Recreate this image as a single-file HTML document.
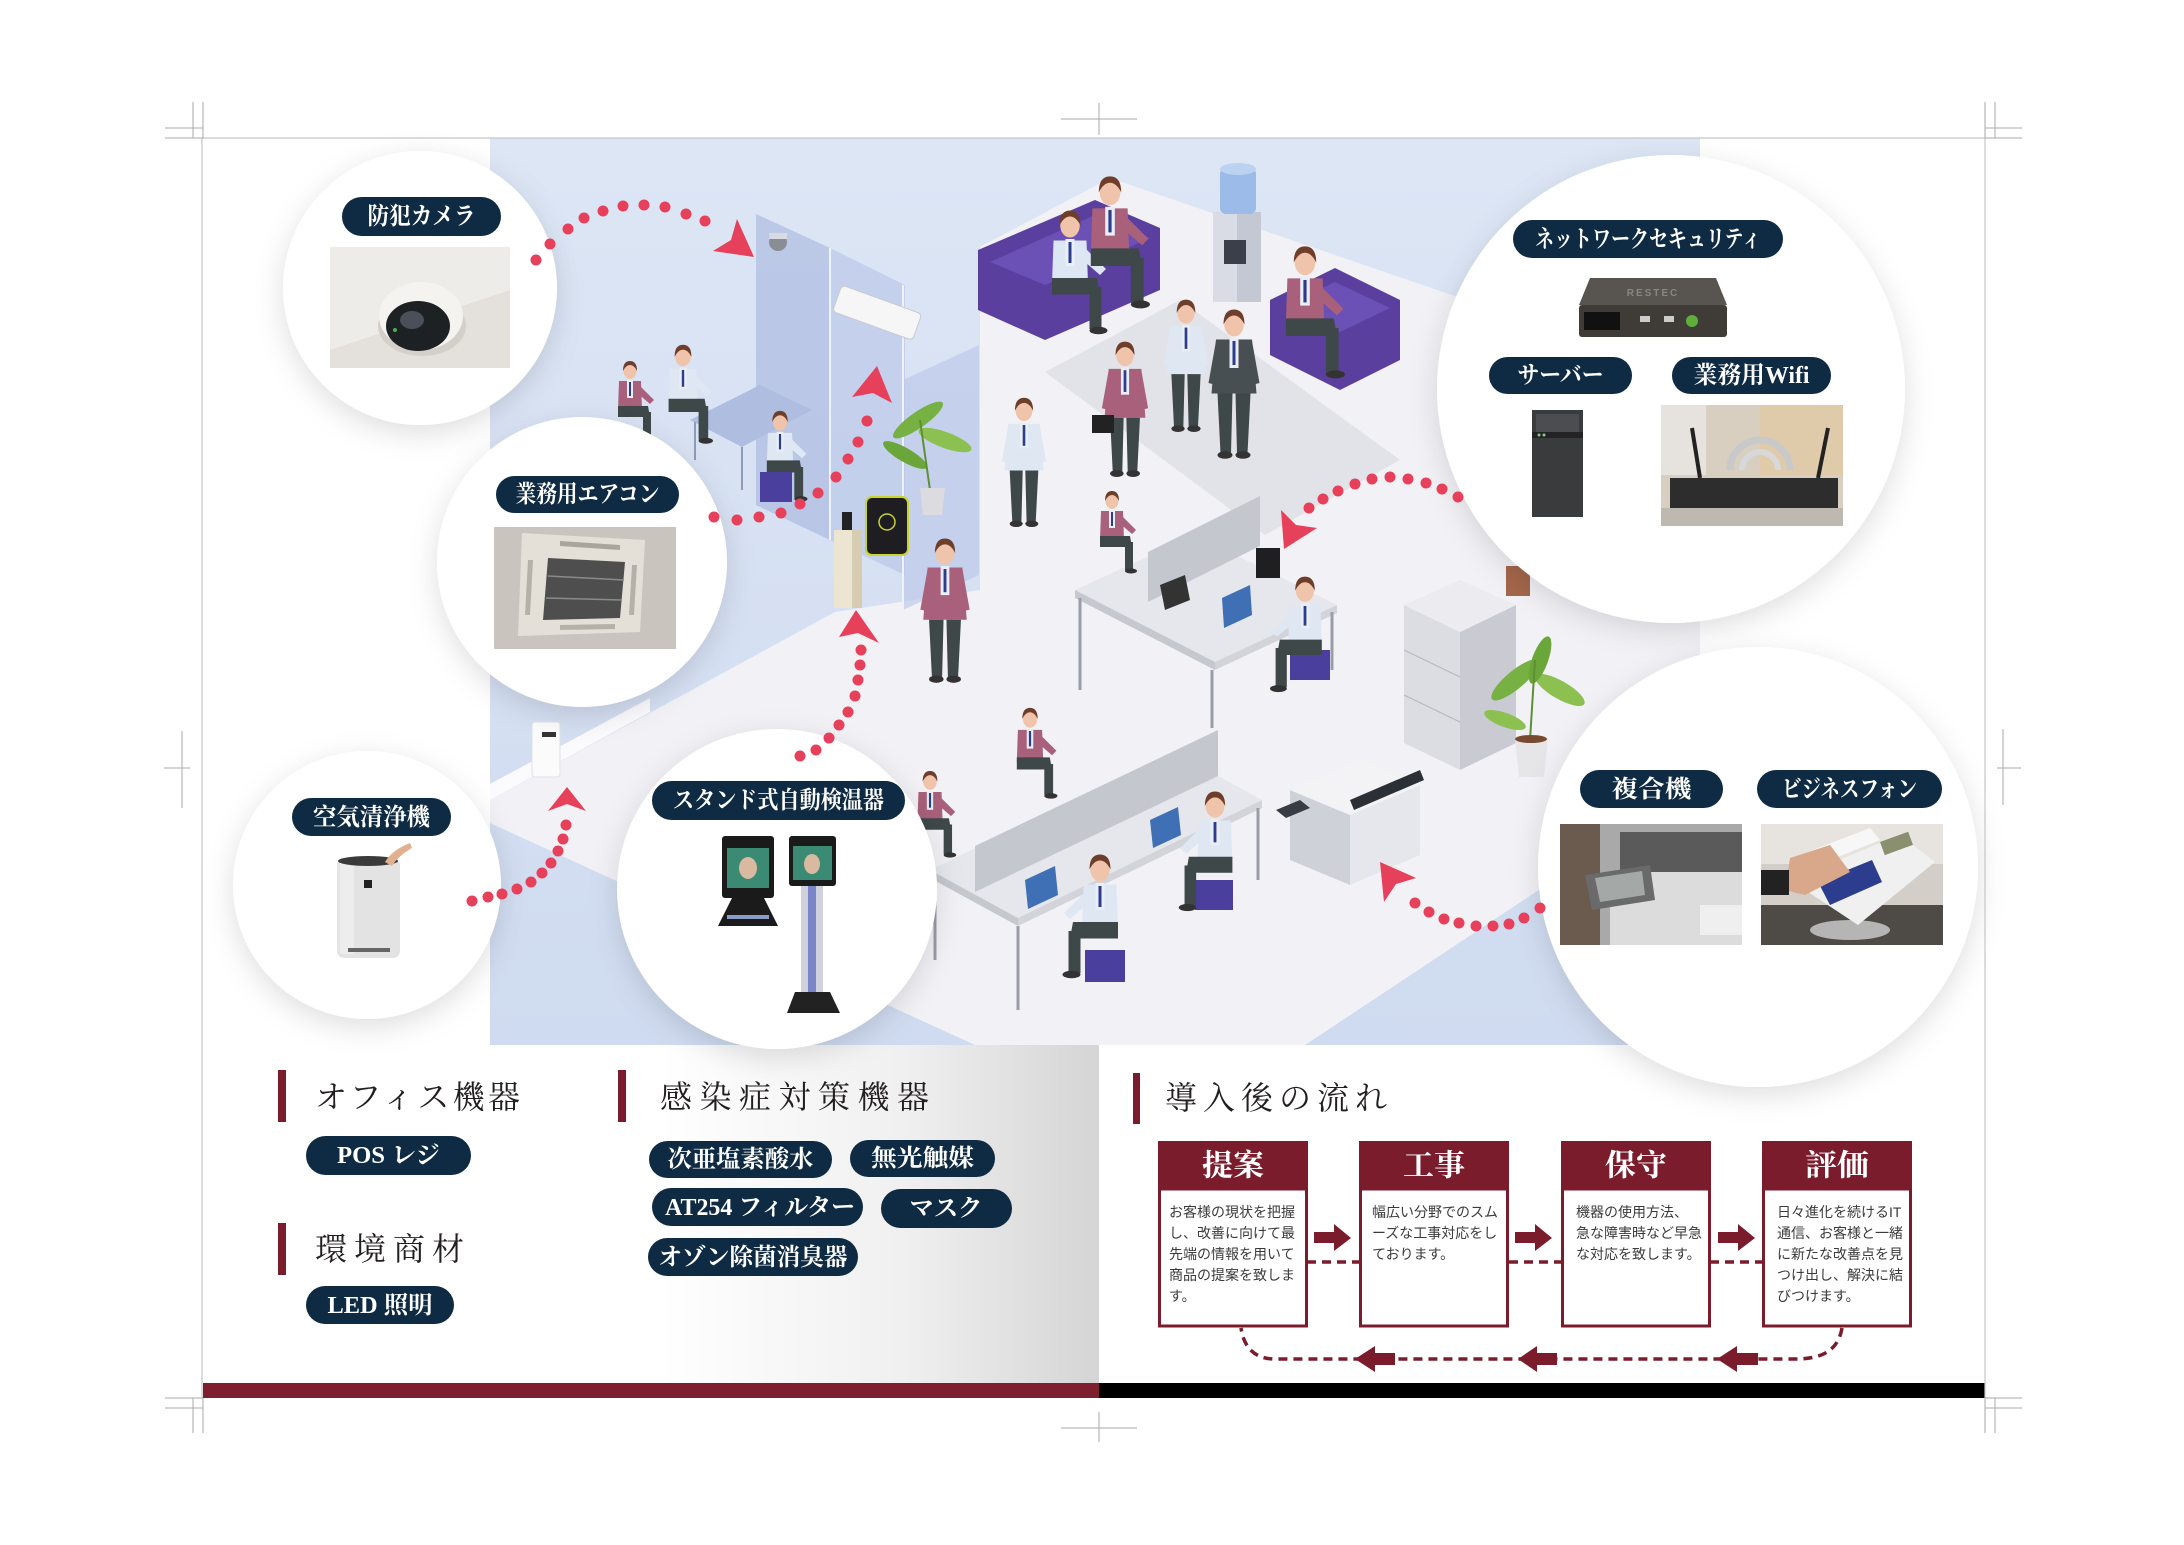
<!DOCTYPE html>
<html><head><meta charset="utf-8"><style>
html,body{margin:0;padding:0;background:#fff;}
svg{display:block;}
.pill{fill:#0f2b43;}
.pt{font-family:"Liberation Serif","Noto Serif CJK SC",serif;font-weight:bold;fill:#fff;font-size:24px;}
.hd{font-family:"Liberation Serif","Noto Serif CJK SC",serif;fill:#231f20;font-size:32px;}
.bt{font-family:"Liberation Sans","Noto Sans CJK JP",sans-serif;fill:#3a3a3a;font-size:14px;}
.ft{font-family:"Liberation Serif","Noto Serif CJK SC",serif;font-weight:bold;fill:#fff;font-size:30px;}
.dot{fill:#e6405a;}
.cm{stroke:#a8a8a8;stroke-width:1;fill:none;}
</style></head><body>
<svg xmlns="http://www.w3.org/2000/svg" width="2184" height="1545" viewBox="0 0 2184 1545">
<defs>
<linearGradient id="gfold" gradientUnits="userSpaceOnUse" x1="660" y1="0" x2="1099" y2="0">
<stop offset="0" stop-color="#ffffff"/><stop offset="0.55" stop-color="#f0f0f0"/><stop offset="1" stop-color="#d5d5d5"/>
</linearGradient>
<linearGradient id="gblue" x1="0" y1="0" x2="0" y2="1">
<stop offset="0" stop-color="#dde6f5"/><stop offset="1" stop-color="#cfdbf0"/>
</linearGradient>
<filter id="sh" x="-30%" y="-30%" width="160%" height="160%">
<feDropShadow dx="0" dy="8" stdDeviation="14" flood-color="#000" flood-opacity="0.13"/>
</filter>
<g id="ps">
<path d="M-12 19 L12 19 L15 55 L-15 55Z" fill="currentColor"/>
<path d="M-12 20 L-17 48 L-13 49 L-9 25Z" fill="currentColor"/>
<path d="M12 20 L17 48 L13 49 L9 25Z" fill="currentColor"/>
<rect x="-3" y="18" width="6" height="20" fill="#e9eef7"/>
<rect x="-1" y="20" width="2" height="16" fill="#2c3d8f"/>
<ellipse cx="0" cy="9" rx="6.5" ry="8" fill="#f0c4aa"/>
<path d="M-7 9 Q-7 -1 0 -1 Q7 -1 7 9 Q4 3 0 3 Q-4 3 -7 9Z" fill="#6e3e2a"/>
<path d="M-11 55 L-1 55 L-2 95 L-9 95Z" fill="#3e4849"/>
<path d="M1 55 L11 55 L9 95 L2 95Z" fill="#3e4849"/>
<ellipse cx="-6" cy="96" rx="5" ry="2.5" fill="#333"/>
<ellipse cx="6" cy="96" rx="5" ry="2.5" fill="#333"/>
</g>
<g id="pst">
<path d="M-11 19 L11 19 L12 48 L-12 48Z" fill="currentColor"/>
<rect x="-3" y="18" width="6" height="18" fill="#e9eef7"/>
<rect x="-1" y="20" width="2" height="14" fill="#2c3d8f"/>
<path d="M8 22 L24 38 L20 42 L5 29Z" fill="currentColor"/>
<ellipse cx="0" cy="9" rx="6.5" ry="8" fill="#f0c4aa"/>
<path d="M-7 9 Q-7 -1 0 -1 Q7 -1 7 9 Q4 3 0 3 Q-4 3 -7 9Z" fill="#6e3e2a"/>
<path d="M-12 44 L18 44 L20 55 L-12 55Z" fill="#3e4849"/>
<rect x="13" y="50" width="8" height="28" fill="#3e4849"/>
<ellipse cx="19" cy="79" rx="6" ry="2.5" fill="#333"/>
</g>
</defs>

<rect x="0" y="0" width="2184" height="1545" fill="#fff"/>
<rect x="202" y="1040" width="897" height="343" fill="url(#gfold)"/>

<rect x="490" y="138" width="1210" height="907" fill="url(#gblue)"/>
<polygon points="490,800 835,612 980,590 980,247 1110,178 1700,380 1700,783 1305,1045 975,1045 490,823" fill="#f2f2f6"/>
<polygon points="490,784 650,698 650,712 490,800" fill="#fbfbfd"/>
<polygon points="1045,372 1180,300 1400,460 1265,535" fill="#e2e3e9"/>
<rect x="1506" y="566" width="24" height="30" fill="#a3674b"/>

<polygon points="756,214 830,248 830,540 756,505" fill="#a5b4dc" opacity="0.6"/>
<polygon points="830,248 905,285 905,575 830,540" fill="#b3c1e5" opacity="0.55"/>
<polygon points="903,380 979,345 979,575 903,610" fill="#b7c4e7" opacity="0.6"/>
<line x1="830" y1="248" x2="830" y2="540" stroke="#eef2fb" stroke-width="2"/>
<line x1="903" y1="285" x2="903" y2="610" stroke="#eef2fb" stroke-width="2"/>
<rect x="842" y="285" width="85" height="28" rx="4" fill="#f6f6f6" stroke="#c9c9cf" transform="rotate(20 842 285)"/>
<circle cx="778" cy="242" r="9" fill="#8a8d93"/><rect x="769" y="233" width="18" height="6" fill="#d8dbe2"/>
<ellipse cx="918" cy="420" rx="30" ry="8" fill="#77b043" transform="rotate(-35 918 420)"/>
<ellipse cx="945" cy="440" rx="28" ry="8" fill="#8cc152" transform="rotate(20 945 440)"/>
<ellipse cx="905" cy="455" rx="25" ry="7" fill="#6aa63a" transform="rotate(30 905 455)"/>
<line x1="930" y1="490" x2="920" y2="420" stroke="#5d8f33" stroke-width="2"/>
<path d="M920 488 L945 488 L942 515 L923 515Z" fill="#dcdce0"/>
<rect x="834" y="530" width="28" height="78" fill="#ece5d2"/>
<rect x="852" y="530" width="10" height="78" fill="#d6ccb1"/>
<rect x="842" y="512" width="10" height="18" fill="#222"/>
<rect x="866" y="497" width="42" height="58" rx="6" fill="#1e1e22" stroke="#c8d42a" stroke-width="2"/>
<circle cx="887" cy="522" r="8" fill="none" stroke="#c8d42a" stroke-width="1.5"/>
<polygon points="690,420 760,385 812,410 742,447" fill="#aebde0"/>
<line x1="695" y1="422" x2="695" y2="460" stroke="#8e9bb8" stroke-width="2"/>
<line x1="742" y1="447" x2="742" y2="490" stroke="#8e9bb8" stroke-width="2"/>
<use href="#pst" transform="translate(630,362) scale(1.0)" color="#a9607a"/>
<use href="#pst" transform="translate(683,346) scale(1.2)" color="#dfe7f3"/>
<use href="#pst" transform="translate(780,412) scale(1.1)" color="#dfe7f3"/>
<rect x="760" y="472" width="32" height="30" fill="#4b3f9e"/>

<polygon points="978,250 1095,200 1160,228 1160,290 1045,340 978,310" fill="#5b3f9f"/>
<polygon points="990,262 1095,215 1150,238 1045,285" fill="#6b50b5"/>
<use href="#pst" transform="translate(1070,212) scale(1.5)" color="#dde6f3"/>
<use href="#pst" transform="translate(1110,178) scale(1.6)" color="#a9607a"/>
<rect x="1213" y="212" width="48" height="90" fill="#d9dce4"/>
<rect x="1237" y="212" width="24" height="90" fill="#c4c8d2"/>
<rect x="1224" y="240" width="22" height="24" fill="#3a3f4a"/>
<rect x="1220" y="168" width="36" height="46" rx="6" fill="#9cbbe8"/>
<ellipse cx="1238" cy="169" rx="18" ry="6" fill="#bcd2f1"/>
<polygon points="1270,300 1335,268 1400,300 1400,360 1340,390 1270,355" fill="#5b3f9f"/>
<polygon points="1285,305 1335,282 1390,308 1340,332" fill="#6b50b5"/>
<use href="#pst" transform="translate(1305,248) scale(1.6)" color="#a9607a"/>
<use href="#ps" transform="translate(1125,343) scale(1.36)" color="#a9607a"/>
<rect x="1092" y="415" width="22" height="18" fill="#222"/>
<use href="#ps" transform="translate(1186,301) scale(1.33)" color="#dfe7f3"/>
<use href="#ps" transform="translate(1234,311) scale(1.5)" color="#474f52"/>
<use href="#ps" transform="translate(1024,399) scale(1.3)" color="#dfe7f3"/>
<use href="#ps" transform="translate(945,540) scale(1.45)" color="#a9607a"/>

<polygon points="1075,590 1195,535 1337,605 1215,662" fill="#e6e7ec"/>
<polygon points="1075,590 1215,662 1215,670 1075,598" fill="#c6c8d0"/>
<polygon points="1215,662 1337,605 1337,613 1215,670" fill="#d3d4da"/>
<line x1="1080" y1="598" x2="1080" y2="690" stroke="#9a9ca6" stroke-width="3"/>
<line x1="1212" y1="670" x2="1212" y2="728" stroke="#9a9ca6" stroke-width="3"/>
<line x1="1332" y1="612" x2="1332" y2="670" stroke="#9a9ca6" stroke-width="3"/>
<use href="#pst" transform="translate(1112,492) scale(1.0)" color="#a9607a"/>
<polygon points="1148,602 1260,546 1260,496 1148,552" fill="#c5c7cf"/>
<rect x="1256" y="548" width="24" height="30" fill="#1f1f22"/>
<polygon points="1222,598 1250,585 1252,615 1224,628" fill="#3f6fb5"/>
<polygon points="1160,585 1185,575 1190,600 1165,610" fill="#333"/>
<rect x="1290" y="650" width="40" height="30" fill="#4b3f9e"/>
<use href="#pst" transform="translate(1305,578) scale(-1.4,1.4)" color="#dfe7f3"/>

<polygon points="1404,605 1460,632 1460,770 1404,743" fill="#dcdde3"/>
<polygon points="1460,632 1516,605 1516,743 1460,770" fill="#c9cad2"/>
<polygon points="1404,605 1460,580 1516,605 1460,632" fill="#ececf0"/>
<line x1="1404" y1="650" x2="1460" y2="677" stroke="#b5b7c0"/>
<line x1="1404" y1="695" x2="1460" y2="722" stroke="#b5b7c0"/>
<ellipse cx="1515" cy="680" rx="30" ry="9" fill="#77b043" transform="rotate(-40 1515 680)"/>
<ellipse cx="1560" cy="690" rx="28" ry="9" fill="#8cc152" transform="rotate(30 1560 690)"/>
<ellipse cx="1540" cy="660" rx="25" ry="8" fill="#6aa63a" transform="rotate(-70 1540 660)"/>
<ellipse cx="1505" cy="720" rx="22" ry="7" fill="#8cc152" transform="rotate(20 1505 720)"/>
<line x1="1530" y1="740" x2="1535" y2="660" stroke="#5d8f33" stroke-width="2"/>
<path d="M1515 738 L1548 738 L1544 777 L1519 777Z" fill="#e6e6e8"/>
<ellipse cx="1531" cy="739" rx="16" ry="4" fill="#7a4a30"/>

<polygon points="1290,790 1350,815 1350,885 1290,860" fill="#cfd1d9"/>
<polygon points="1350,815 1420,785 1420,855 1350,885" fill="#e6e7ec"/>
<polygon points="1290,790 1360,758 1420,785 1350,815" fill="#f3f3f6"/>
<polygon points="1350,800 1420,770 1424,780 1354,810" fill="#2d2f36"/>
<polygon points="1276,810 1300,800 1310,808 1286,818" fill="#3a3c44"/>

<polygon points="930,870 1175,752 1262,800 1018,918" fill="#e6e7ec"/>
<polygon points="930,870 1018,918 1018,926 930,878" fill="#c6c8d0"/>
<polygon points="1018,918 1262,800 1262,808 1018,926" fill="#d3d4da"/>
<line x1="935" y1="878" x2="935" y2="960" stroke="#9a9ca6" stroke-width="3"/>
<line x1="1018" y1="926" x2="1018" y2="1010" stroke="#9a9ca6" stroke-width="3"/>
<line x1="1258" y1="808" x2="1258" y2="880" stroke="#9a9ca6" stroke-width="3"/>
<use href="#pst" transform="translate(1030,709) scale(1.1)" color="#a9607a"/>
<use href="#pst" transform="translate(930,772) scale(1.05)" color="#a9607a"/>
<polygon points="975,892 1218,776 1218,730 975,846" fill="#c5c7cf"/>
<polygon points="1025,880 1055,866 1058,895 1028,909" fill="#3f6fb5"/>
<polygon points="1150,820 1178,807 1181,835 1153,848" fill="#3f6fb5"/>
<rect x="1085" y="950" width="40" height="32" fill="#4b3f9e"/>
<rect x="1195" y="880" width="38" height="30" fill="#4b3f9e"/>
<use href="#pst" transform="translate(1100,856) scale(-1.5,1.5)" color="#dfe7f3"/>
<use href="#pst" transform="translate(1215,793) scale(-1.45,1.45)" color="#dfe7f3"/>

<rect x="532" y="722" width="28" height="55" rx="3" fill="#fbfbfc" stroke="#dfe1e8"/>
<rect x="542" y="732" width="14" height="5" fill="#333"/>

<circle cx="420" cy="288" r="137" fill="#fff" filter="url(#sh)"/>
<circle cx="582" cy="562" r="145" fill="#fff" filter="url(#sh)"/>
<circle cx="367" cy="885" r="134" fill="#fff" filter="url(#sh)"/>
<circle cx="777" cy="889" r="160" fill="#fff" filter="url(#sh)"/>
<circle cx="1671" cy="389" r="234" fill="#fff" filter="url(#sh)"/>
<circle cx="1758" cy="867" r="220" fill="#fff" filter="url(#sh)"/>

<rect x="330" y="247" width="180" height="121" fill="#e4e1dc"/>
<polygon points="330,247 510,247 510,290 330,350" fill="#eeece8"/>
<ellipse cx="422" cy="326" rx="44" ry="30" fill="#d4d0c9"/>
<ellipse cx="421" cy="316" rx="42" ry="34" fill="#f4f3f0"/>
<ellipse cx="418" cy="326" rx="32" ry="25" fill="#1e2124"/>
<ellipse cx="412" cy="320" rx="12" ry="9" fill="#4a5058"/>
<circle cx="395" cy="330" r="2" fill="#4caf50"/>
<rect x="494" y="527" width="182" height="122" fill="#c9c5be"/>
<polygon points="522,533 645,540 640,632 518,636" fill="#e4e0d8"/>
<polygon points="548,558 625,562 620,618 543,620" fill="#4e4e4e"/>
<line x1="548" y1="576" x2="624" y2="580" stroke="#8a8a8a" stroke-width="1.5"/>
<line x1="546" y1="598" x2="622" y2="600" stroke="#8a8a8a" stroke-width="1.5"/>
<polygon points="560,541 620,545 620,550 560,546" fill="#a9a59c"/>
<polygon points="560,625 615,624 615,629 560,630" fill="#b5b1a8"/>
<polygon points="528,560 533,560 530,615 525,615" fill="#b5b1a8"/>
<polygon points="632,565 637,565 634,615 629,615" fill="#b5b1a8"/>
<rect x="337" y="858" width="63" height="100" rx="7" fill="#e3e3e3"/>
<rect x="340" y="862" width="14" height="92" fill="#ededed"/>
<ellipse cx="368" cy="861" rx="30" ry="5" fill="#3a3a3a"/>
<rect x="364" y="880" width="8" height="8" fill="#222"/>
<rect x="348" y="948" width="42" height="4" fill="#666"/>
<path d="M385 862 Q392 850 410 843 L412 848 Q398 856 392 866Z" fill="#e2b08f"/>
<rect x="722" y="836" width="52" height="62" rx="3" fill="#1a1a1a"/>
<rect x="727" y="848" width="42" height="40" fill="#3a8a74"/>
<ellipse cx="748" cy="868" rx="9" ry="11" fill="#d9b9a0"/>
<polygon points="732,898 764,898 778,926 718,926" fill="#1b1b1b"/>
<rect x="727" y="915" width="42" height="4" fill="#8a9cc8"/>
<rect x="789" y="836" width="47" height="50" rx="3" fill="#1a1a1a"/>
<rect x="793" y="846" width="39" height="34" fill="#3a8a74"/>
<ellipse cx="812" cy="864" rx="8" ry="10" fill="#d9b9a0"/>
<rect x="801" y="886" width="22" height="108" fill="#cfd2dc"/>
<rect x="808" y="886" width="8" height="108" fill="#7a86c8"/>
<polygon points="795,992 830,992 840,1013 787,1013" fill="#222"/>
<polygon points="1590,278 1716,278 1727,305 1579,305" fill="#58544f"/>
<rect x="1579" y="305" width="148" height="32" rx="3" fill="#3f3c38"/>
<text x="1653" y="296" font-family="Liberation Sans, sans-serif" font-weight="bold" font-size="10" fill="#8a857e" text-anchor="middle" letter-spacing="2">RESTEC</text>
<rect x="1584" y="312" width="36" height="18" fill="#111"/>
<rect x="1640" y="316" width="10" height="6" fill="#ccc"/>
<rect x="1664" y="316" width="10" height="6" fill="#ccc"/>
<circle cx="1692" cy="321" r="6" fill="#5fae3a"/>
<rect x="1532" y="410" width="51" height="107" fill="#3a3b3d"/>
<rect x="1536" y="414" width="43" height="18" fill="#4c4d50"/>
<rect x="1532" y="432" width="51" height="6" fill="#232325"/>
<circle cx="1539" cy="435" r="1.5" fill="#8c8"/><circle cx="1544" cy="435" r="1.5" fill="#8c8"/>
<rect x="1661" y="405" width="182" height="121" fill="#d8cfc1"/>
<rect x="1661" y="405" width="45" height="70" fill="#e6e3de"/>
<rect x="1760" y="405" width="83" height="70" fill="#e3c99e" opacity="0.7"/>
<path d="M1730 470 A30 30 0 0 1 1790 470" stroke="#c9c9c9" stroke-width="7" fill="none"/>
<path d="M1742 470 A18 18 0 0 1 1778 470" stroke="#d8d8d8" stroke-width="6" fill="none"/>
<line x1="1700" y1="478" x2="1692" y2="428" stroke="#222" stroke-width="4"/>
<line x1="1818" y1="478" x2="1828" y2="428" stroke="#222" stroke-width="4"/>
<rect x="1670" y="478" width="168" height="30" fill="#2d2d2d"/>
<rect x="1661" y="508" width="182" height="18" fill="#bdb8b0"/>
<rect x="1560" y="824" width="182" height="121" fill="#a9a9a9"/>
<rect x="1560" y="824" width="40" height="121" fill="#6b5a4e"/>
<rect x="1620" y="832" width="122" height="40" fill="#5a5a5a"/>
<rect x="1610" y="872" width="132" height="73" fill="#dcdcdc"/>
<polygon points="1585,875 1650,865 1655,900 1592,910" fill="#6a6a6a"/>
<polygon points="1595,878 1642,871 1645,895 1600,902" fill="#a4a9a8"/>
<rect x="1700" y="905" width="42" height="30" fill="#efefef"/>
<rect x="1761" y="824" width="182" height="121" fill="#d3cfc8"/>
<rect x="1761" y="824" width="182" height="40" fill="#e7e4df"/>
<rect x="1761" y="905" width="182" height="40" fill="#4e4a46"/>
<ellipse cx="1850" cy="930" rx="40" ry="10" fill="#b5b5b5"/>
<polygon points="1790,880 1900,835 1935,862 1858,925" fill="#f0f0f0"/>
<polygon points="1818,882 1872,860 1882,882 1830,905" fill="#2b3d8c"/>
<rect x="1880" y="842" width="30" height="14" fill="#8a8f70" transform="rotate(-20 1880 842)"/>
<polygon points="1800,855 1870,828 1880,840 1810,868" fill="#f7f7f7"/>
<polygon points="1790,858 1830,845 1850,872 1805,895 1785,890" fill="#d9a88a"/>
<rect x="1761" y="870" width="28" height="25" fill="#222"/>

<rect class="pill" x="342" y="197" width="159" height="39" rx="19.5"/>
<text class="pt" x="421.5" y="217" text-anchor="middle" dominant-baseline="central" textLength="108" lengthAdjust="spacingAndGlyphs">防犯カメラ</text>
<rect class="pill" x="496" y="476" width="183" height="37" rx="18.5"/>
<text class="pt" x="587.5" y="495" text-anchor="middle" dominant-baseline="central" textLength="144" lengthAdjust="spacingAndGlyphs">業務用エアコン</text>
<rect class="pill" x="292" y="798" width="159" height="38" rx="19"/>
<text class="pt" x="371.5" y="818" text-anchor="middle" dominant-baseline="central" textLength="117" lengthAdjust="spacingAndGlyphs">空気清浄機</text>
<rect class="pill" x="652" y="781" width="253" height="39" rx="19.5"/>
<text class="pt" x="778.5" y="801" text-anchor="middle" dominant-baseline="central" textLength="211" lengthAdjust="spacingAndGlyphs">スタンド式自動検温器</text>
<rect class="pill" x="1513" y="220" width="270" height="38" rx="19"/>
<text class="pt" x="1648" y="240" text-anchor="middle" dominant-baseline="central" textLength="226" lengthAdjust="spacingAndGlyphs">ネットワークセキュリティ</text>
<rect class="pill" x="1489" y="357" width="143" height="37" rx="18.5"/>
<text class="pt" x="1560.5" y="376" text-anchor="middle" dominant-baseline="central" textLength="86" lengthAdjust="spacingAndGlyphs">サーバー</text>
<rect class="pill" x="1672" y="357" width="159" height="37" rx="18.5"/>
<text class="pt" x="1751.5" y="376" text-anchor="middle" dominant-baseline="central" textLength="116" lengthAdjust="spacingAndGlyphs">業務用Wifi</text>
<rect class="pill" x="1580" y="770" width="143" height="38" rx="19"/>
<text class="pt" x="1651.5" y="790" text-anchor="middle" dominant-baseline="central" textLength="80" lengthAdjust="spacingAndGlyphs">複合機</text>
<rect class="pill" x="1757" y="770" width="185" height="38" rx="19"/>
<text class="pt" x="1849.5" y="790" text-anchor="middle" dominant-baseline="central" textLength="135" lengthAdjust="spacingAndGlyphs">ビジネスフォン</text>

<g class="dot">
<circle cx="536" cy="260" r="5.5"/><circle cx="550" cy="244" r="5.5"/><circle cx="568" cy="229" r="5.5"/><circle cx="584" cy="218" r="5.5"/><circle cx="603" cy="211" r="5.5"/><circle cx="623" cy="206" r="5.5"/><circle cx="644" cy="205" r="5.5"/><circle cx="665" cy="207" r="5.5"/><circle cx="686" cy="214" r="5.5"/><circle cx="705" cy="221" r="5.5"/>
<polygon points="754,257 713,251 731,240 737,219"/>
<circle cx="714" cy="517" r="5.5"/><circle cx="737" cy="520" r="5.5"/><circle cx="759" cy="517" r="5.5"/><circle cx="781" cy="513" r="5.5"/><circle cx="800" cy="504" r="5.5"/><circle cx="818" cy="493" r="5.5"/><circle cx="836" cy="477" r="5.5"/><circle cx="848" cy="459" r="5.5"/><circle cx="858" cy="442" r="5.5"/><circle cx="867" cy="421" r="5.5"/>
<polygon points="877,366 852,397 873,393 892,403"/>
<circle cx="800" cy="756" r="5.5"/><circle cx="816" cy="750" r="5.5"/><circle cx="829" cy="738" r="5.5"/><circle cx="839" cy="725" r="5.5"/><circle cx="848" cy="712" r="5.5"/><circle cx="855" cy="696" r="5.5"/><circle cx="858" cy="680" r="5.5"/><circle cx="860" cy="665" r="5.5"/><circle cx="861" cy="650" r="5.5"/>
<polygon points="856,610 839,637 858,633 879,643"/>
<circle cx="472" cy="901" r="5.5"/><circle cx="488" cy="897" r="5.5"/><circle cx="502" cy="894" r="5.5"/><circle cx="517" cy="889" r="5.5"/><circle cx="531" cy="882" r="5.5"/><circle cx="542" cy="873" r="5.5"/><circle cx="551" cy="863" r="5.5"/><circle cx="558" cy="851" r="5.5"/><circle cx="563" cy="839" r="5.5"/><circle cx="566" cy="825" r="5.5"/>
<polygon points="567,787 548,811 567,804 586,811"/>
<circle cx="1458" cy="497" r="5.5"/><circle cx="1442" cy="489" r="5.5"/><circle cx="1426" cy="483" r="5.5"/><circle cx="1408" cy="479" r="5.5"/><circle cx="1390" cy="477" r="5.5"/><circle cx="1372" cy="479" r="5.5"/><circle cx="1355" cy="484" r="5.5"/><circle cx="1338" cy="491" r="5.5"/><circle cx="1323" cy="499" r="5.5"/><circle cx="1309" cy="508" r="5.5"/>
<polygon points="1284,549 1281,510 1296,525 1317,528"/>
<circle cx="1540" cy="908" r="5.5"/><circle cx="1524" cy="918" r="5.5"/><circle cx="1509" cy="924" r="5.5"/><circle cx="1493" cy="926" r="5.5"/><circle cx="1476" cy="926" r="5.5"/><circle cx="1459" cy="923" r="5.5"/><circle cx="1444" cy="919" r="5.5"/><circle cx="1429" cy="912" r="5.5"/><circle cx="1415" cy="903" r="5.5"/>
<polygon points="1380,862 1384,902 1396,884 1416,878"/>
</g>

<rect x="278" y="1070" width="8" height="52" fill="#7b1c2c"/>
<text class="hd" x="315" y="1097" dominant-baseline="central" textLength="205" lengthAdjust="spacing">オフィス機器</text>
<rect class="pill" x="306" y="1136" width="165" height="39" rx="19.5"/>
<text class="pt" x="388.5" y="1156" text-anchor="middle" dominant-baseline="central" textLength="103" lengthAdjust="spacingAndGlyphs">POS レジ</text>
<rect x="278" y="1223" width="8" height="52" fill="#7b1c2c"/>
<text class="hd" x="315" y="1249" dominant-baseline="central" textLength="149" lengthAdjust="spacing">環境商材</text>
<rect class="pill" x="306" y="1286" width="148" height="38" rx="19"/>
<text class="pt" x="380" y="1306" text-anchor="middle" dominant-baseline="central" textLength="105" lengthAdjust="spacingAndGlyphs">LED 照明</text>

<rect x="618" y="1070" width="8" height="52" fill="#7b1c2c"/>
<text class="hd" x="660" y="1097" dominant-baseline="central" textLength="269" lengthAdjust="spacing">感染症対策機器</text>
<rect class="pill" x="649" y="1141" width="183" height="37" rx="18.5"/>
<text class="pt" x="740.5" y="1160" text-anchor="middle" dominant-baseline="central" textLength="146" lengthAdjust="spacingAndGlyphs">次亜塩素酸水</text>
<rect class="pill" x="850" y="1140" width="145" height="37" rx="18.5"/>
<text class="pt" x="922.5" y="1159" text-anchor="middle" dominant-baseline="central" textLength="103" lengthAdjust="spacingAndGlyphs">無光触媒</text>
<rect class="pill" x="652" y="1188" width="211" height="38" rx="19"/>
<text class="pt" x="760" y="1208" text-anchor="middle" dominant-baseline="central" textLength="190" lengthAdjust="spacingAndGlyphs">AT254 フィルター</text>
<rect class="pill" x="881" y="1189" width="131" height="39" rx="19.5"/>
<text class="pt" x="946" y="1209" text-anchor="middle" dominant-baseline="central" textLength="73" lengthAdjust="spacingAndGlyphs">マスク</text>
<rect class="pill" x="648" y="1238" width="210" height="38" rx="19"/>
<text class="pt" x="753" y="1258" text-anchor="middle" dominant-baseline="central" textLength="189" lengthAdjust="spacingAndGlyphs">オゾン除菌消臭器</text>

<rect x="1133" y="1073" width="7" height="51" fill="#7b1c2c"/>
<text class="hd" x="1165" y="1098" dominant-baseline="central" textLength="222" lengthAdjust="spacing">導入後の流れ</text>

<g stroke="#7b1c2c" stroke-width="3.5" fill="none" stroke-dasharray="9 6">
<line x1="1307" y1="1262" x2="1359" y2="1262"/>
<line x1="1509" y1="1262" x2="1561" y2="1262"/>
<line x1="1710" y1="1262" x2="1762" y2="1262"/>
<path d="M1842 1328 C1838 1352 1820 1359 1795 1359 L1275 1359 C1255 1359 1244 1348 1241 1328"/>
</g>
<g fill="#7b1c2c">
<rect x="1158" y="1141" width="150" height="48"/>
<rect x="1359" y="1141" width="150" height="48"/>
<rect x="1561" y="1141" width="150" height="48"/>
<rect x="1762" y="1141" width="150" height="48"/>
</g>
<g fill="#fff" stroke="#7b1c2c" stroke-width="3">
<rect x="1159.5" y="1189" width="147" height="137"/>
<rect x="1360.5" y="1189" width="147" height="137"/>
<rect x="1562.5" y="1189" width="147" height="137"/>
<rect x="1763.5" y="1189" width="147" height="137"/>
</g>
<text class="ft" x="1233" y="1166" text-anchor="middle" dominant-baseline="central" textLength="62" lengthAdjust="spacingAndGlyphs">提案</text>
<text class="ft" x="1434" y="1166" text-anchor="middle" dominant-baseline="central" textLength="62" lengthAdjust="spacingAndGlyphs">工事</text>
<text class="ft" x="1636" y="1166" text-anchor="middle" dominant-baseline="central" textLength="62" lengthAdjust="spacingAndGlyphs">保守</text>
<text class="ft" x="1837" y="1166" text-anchor="middle" dominant-baseline="central" textLength="64" lengthAdjust="spacingAndGlyphs">評価</text>
<g fill="#7b1c2c">
<polygon points="1314,1232 1334,1232 1334,1224 1351,1238 1334,1251 1334,1243 1314,1243"/>
<polygon points="1515,1232 1535,1232 1535,1224 1552,1238 1535,1251 1535,1243 1515,1243"/>
<polygon points="1718,1232 1738,1232 1738,1224 1755,1238 1738,1251 1738,1243 1718,1243"/>
<polygon points="1355,1359 1375,1346 1375,1353 1395,1353 1395,1365 1375,1365 1375,1372"/>
<polygon points="1518,1359 1537,1346 1537,1353 1557,1353 1557,1365 1537,1365 1537,1372"/>
<polygon points="1717,1359 1737,1346 1737,1353 1758,1353 1758,1365 1737,1365 1737,1372"/>
</g>
<text class="bt"><tspan x="1169" y="1217">お客様の現状を把握</tspan><tspan x="1169" y="1238">し、改善に向けて最</tspan><tspan x="1169" y="1259">先端の情報を用いて</tspan><tspan x="1169" y="1280">商品の提案を致しま</tspan><tspan x="1169" y="1301">す。</tspan></text>
<text class="bt"><tspan x="1372" y="1217">幅広い分野でのスム</tspan><tspan x="1372" y="1238">ーズな工事対応をし</tspan><tspan x="1372" y="1259">ております。</tspan></text>
<text class="bt"><tspan x="1576" y="1217">機器の使用方法、</tspan><tspan x="1576" y="1238">急な障害時など早急</tspan><tspan x="1576" y="1259">な対応を致します。</tspan></text>
<text class="bt"><tspan x="1777" y="1217">日々進化を続けるIT</tspan><tspan x="1777" y="1238">通信、お客様と一緒</tspan><tspan x="1777" y="1259">に新たな改善点を見</tspan><tspan x="1777" y="1280">つけ出し、解決に結</tspan><tspan x="1777" y="1301">びつけます。</tspan></text>

<rect x="203" y="1383" width="896" height="15" fill="#7d1f2e"/>
<rect x="1099" y="1383" width="886" height="15" fill="#000"/>

<g stroke="#c6c6c6" stroke-width="1.2" fill="none">
<line x1="202" y1="138" x2="1985" y2="138"/>
<line x1="202" y1="138" x2="202" y2="1398"/>
<line x1="1985" y1="138" x2="1985" y2="1398"/>
</g>
<g class="cm">
<line x1="193" y1="102" x2="193" y2="138"/><line x1="203" y1="102" x2="203" y2="138"/>
<line x1="165" y1="128" x2="203" y2="128"/><line x1="165" y1="138" x2="203" y2="138"/>
<line x1="1985" y1="102" x2="1985" y2="138"/><line x1="1995" y1="102" x2="1995" y2="138"/>
<line x1="1985" y1="128" x2="2022" y2="128"/><line x1="1985" y1="138" x2="2022" y2="138"/>
<line x1="193" y1="1398" x2="193" y2="1433"/><line x1="203" y1="1398" x2="203" y2="1433"/>
<line x1="165" y1="1398" x2="203" y2="1398"/><line x1="165" y1="1408" x2="203" y2="1408"/>
<line x1="1985" y1="1398" x2="1985" y2="1433"/><line x1="1995" y1="1398" x2="1995" y2="1433"/>
<line x1="1985" y1="1398" x2="2022" y2="1398"/><line x1="1985" y1="1408" x2="2022" y2="1408"/>
<line x1="1061" y1="119" x2="1137" y2="119"/><line x1="1099" y1="103" x2="1099" y2="135"/>
<line x1="1061" y1="1428" x2="1137" y2="1428"/><line x1="1099" y1="1412" x2="1099" y2="1442"/>
<line x1="182" y1="731" x2="182" y2="808"/><line x1="164" y1="768" x2="190" y2="768"/>
<line x1="2003" y1="729" x2="2003" y2="805"/><line x1="1997" y1="768" x2="2021" y2="768"/>
</g>
</svg>
</body></html>
